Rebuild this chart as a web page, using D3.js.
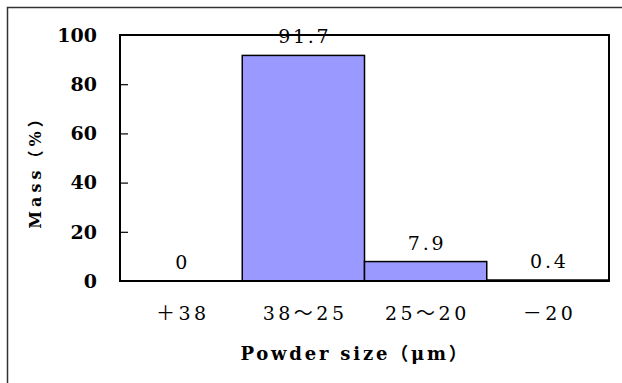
<!DOCTYPE html>
<html>
<head>
<meta charset="utf-8">
<script src="https://cdn.jsdelivr.net/npm/d3@7"></script>
<style>
  body { margin: 0; background: #fff; }
  text { font-family: "DejaVu Serif", "Noto Sans CJK JP", serif; fill: #000; }
</style>
</head>
<body>
<div id="chart"></div>
<script>
// data
var categories = ["＋38", "38～25", "25～20", "－20"];
var massValues = [0, 91.7, 7.9, 0.4];
var valueLabels = ["0", "91.7", "7.9", "0.4"];
var yTicks = [0, 20, 40, 60, 80, 100];

var W = 622, H = 383;
var plot = { left: 120, top: 35, right: 609, bottom: 281 };

var svg = d3.select("#chart").append("svg")
    .attr("width", W)
    .attr("height", H);

// outer frame (only top and left edges show)
svg.append("path")
    .attr("d", "M7.5," + H + "V7.5H" + W)
    .attr("fill", "none")
    .attr("stroke", "#333")
    .attr("stroke-width", 1.5);

var x = d3.scaleBand()
    .domain(categories)
    .range([plot.left, plot.right])
    .padding(0);

var y = d3.scaleLinear()
    .domain([0, 100])
    .range([plot.bottom, plot.top]);

// bars
svg.selectAll("rect.bar")
    .data(massValues)
    .enter()
    .append("rect")
    .attr("class", "bar")
    .attr("x", function (d, i) { return x(categories[i]); })
    .attr("y", function (d) { return y(d); })
    .attr("width", x.bandwidth())
    .attr("height", function (d) { return y(0) - y(d); })
    .attr("fill", "#9999ff")
    .attr("stroke", "#000")
    .attr("stroke-width", 1.5);

// plot frame
svg.append("rect")
    .attr("x", plot.left)
    .attr("y", plot.top)
    .attr("width", plot.right - plot.left)
    .attr("height", plot.bottom - plot.top)
    .attr("fill", "none")
    .attr("stroke", "#000")
    .attr("stroke-width", 2);

// y axis: inside ticks, bold labels
var yAxis = svg.append("g")
    .attr("transform", "translate(" + plot.left + ",0)")
    .call(d3.axisRight(y).tickValues(yTicks).tickSize(8).tickFormat(""));
yAxis.select(".domain").remove();
yAxis.selectAll(".tick line").attr("stroke", "#000").attr("stroke-width", 1.2);
yAxis.selectAll(".tick").filter(function (d) { return d === 0 || d === 100; }).select("line").remove();

svg.selectAll("text.ytick")
    .data(yTicks)
    .enter()
    .append("text")
    .attr("class", "ytick")
    .attr("x", 97)
    .attr("y", function (d) { return y(d); })
    .attr("dy", "0.36em")
    .attr("text-anchor", "end")
    .style("font-size", "19px")
    .style("font-weight", "bold")
    .text(function (d) { return d; });

// x category labels
svg.selectAll("text.xtick")
    .data(categories)
    .enter()
    .append("text")
    .attr("class", "xtick")
    .attr("x", function (d) { return x(d) + x.bandwidth() / 2; })
    .attr("y", 320)
    .attr("dx", 1.7)
    .attr("text-anchor", "middle")
    .style("font-size", "19px")
    .style("letter-spacing", "3.5px")
    .text(function (d) { return d; });

// value labels
svg.selectAll("text.value")
    .data(massValues)
    .enter()
    .append("text")
    .attr("class", "value")
    .attr("x", function (d, i) { return x(categories[i]) + x.bandwidth() / 2; })
    .attr("y", function (d) { return y(d) - 12; })
    .attr("dx", 1.4)
    .attr("text-anchor", "middle")
    .style("font-size", "19px")
    .style("letter-spacing", "2.7px")
    .text(function (d, i) { return valueLabels[i]; });

// axis titles
svg.append("text")
    .attr("x", 355)
    .attr("y", 360)
    .attr("text-anchor", "middle")
    .style("font-size", "18px")
    .style("font-weight", "bold")
    .style("letter-spacing", "2.8px")
    .text("Powder size（μm）");

svg.append("text")
    .attr("transform", "translate(41,168) rotate(-90)")
    .attr("text-anchor", "middle")
    .style("font-size", "16px")
    .style("font-weight", "bold")
    .style("letter-spacing", "4px")
    .text("Mass（%）");
</script>
</body>
</html>
